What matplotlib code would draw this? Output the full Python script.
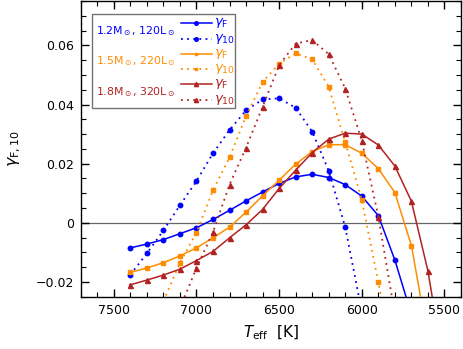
import numpy as np
import matplotlib
matplotlib.use('Agg')
import matplotlib.pyplot as plt
from matplotlib.ticker import MultipleLocator, FuncFormatter
from matplotlib.patches import Rectangle

plt.rcParams['font.family'] = 'DejaVu Sans'
plt.rcParams['mathtext.fontset'] = 'dejavusans'

# Data
teff_f_12 = [7400, 7300, 7200, 7100, 7000, 6900, 6800, 6700, 6600, 6500, 6400, 6300, 6200, 6100, 6000, 5900, 5800, 5700]
gf_12 = [-0.0085, -0.0072, -0.0057, -0.0037, -0.0017, 0.0011, 0.0042, 0.0074, 0.0104, 0.0133, 0.0155, 0.0164,
         0.0153, 0.0129, 0.0090, 0.0024, -0.0126, -0.031]
teff_f_15 = [7400, 7300, 7200, 7100, 7000, 6900, 6800, 6700, 6600, 6500, 6400, 6300, 6200, 6100, 6000, 5900, 5800, 5700, 5600]
gf_15 = [-0.0168, -0.0153, -0.0135, -0.0112, -0.0085, -0.0051, -0.0015, 0.0036, 0.0091, 0.0144, 0.0198, 0.0241,
         0.0264, 0.0264, 0.0235, 0.0183, 0.0102, -0.0077, -0.039]
teff_f_18 = [7400, 7300, 7200, 7100, 7000, 6900, 6800, 6700, 6600, 6500, 6400, 6300, 6200, 6100, 6000, 5900, 5800, 5700, 5600, 5500]
gf_18 = [-0.0210, -0.0194, -0.0177, -0.0157, -0.0128, -0.0097, -0.0051, -0.0007, 0.0045, 0.0116, 0.0178, 0.0237,
         0.0283, 0.0303, 0.0300, 0.0263, 0.0192, 0.0073, -0.0163, -0.050]

teff_10_12 = [7400, 7300, 7200, 7100, 7000, 6900, 6800, 6700, 6600, 6500, 6400, 6300, 6200, 6100, 6000]
g10_12 = [-0.0176, -0.0104, -0.0026, 0.0059, 0.0141, 0.0235, 0.0314, 0.0380, 0.0417, 0.0421, 0.0389, 0.0308,
          0.0176, -0.0015, -0.030]
teff_10_15 = [7200, 7100, 7000, 6900, 6800, 6700, 6600, 6500, 6400, 6300, 6200, 6100, 6000, 5900, 5800]
g10_15 = [-0.0265, -0.0136, -0.0033, 0.0110, 0.0221, 0.0360, 0.0476, 0.0538, 0.0573, 0.0553, 0.0460, 0.0272,
          0.0078, -0.0202, -0.048]
teff_10_18 = [7100, 7000, 6900, 6800, 6700, 6600, 6500, 6400, 6300, 6200, 6100, 6000, 5900, 5800]
g10_18 = [-0.029, -0.0153, -0.0032, 0.0129, 0.0254, 0.0392, 0.0533, 0.0606, 0.0618, 0.0570, 0.0454, 0.0278,
          0.0021, -0.031]

models = [r'1.2M$_\odot$, 120L$_\odot$', r'1.5M$_\odot$, 220L$_\odot$', r'1.8M$_\odot$, 320L$_\odot$']
colors = ['#0000ff', '#ff8c00', '#b22222']
markers = ['o', 's', '^']
msizes = [3.2, 2.7, 3.6]
dotted = (0, (1.0, 2.4))

series_f = [(teff_f_12, gf_12), (teff_f_15, gf_15), (teff_f_18, gf_18)]
series_10 = [(teff_10_12, g10_12), (teff_10_15, g10_15), (teff_10_18, g10_18)]

fig = plt.figure(figsize=(4.64, 3.49), dpi=100)
ax = fig.add_axes([0.174, 0.150, 0.8195, 0.847])

ax.axhline(0, color='0.4', lw=0.9, zorder=1)

for i in range(3):
    t, g = series_f[i]
    ax.plot(t, g, color=colors[i], lw=1.1, marker=markers[i], ms=msizes[i], zorder=3)
    t, g = series_10[i]
    ax.plot(t, g, color=colors[i], lw=1.3, ls=dotted, marker=markers[i], ms=msizes[i], zorder=3)

ax.set_xlim(7700, 5400)
ax.set_ylim(-0.025, 0.075)

ax.xaxis.set_major_locator(MultipleLocator(500))
ax.xaxis.set_minor_locator(MultipleLocator(100))
ax.yaxis.set_major_locator(MultipleLocator(0.02))
ax.yaxis.set_minor_locator(MultipleLocator(0.005))
ax.yaxis.set_major_formatter(FuncFormatter(lambda v, p: '0' if abs(v) < 1e-9 else ('%.2f' % v).replace('-', '\u2212')))
ax.tick_params(which='both', direction='in', top=True, right=True, labelsize=9)
ax.tick_params(which='major', length=6, width=1.0, pad=5)
ax.tick_params(which='minor', length=3.5, width=0.8)
for s in ax.spines.values():
    s.set_linewidth(1.0)

ax.set_xlabel(r'$T_{\rm eff}$  [K]', fontsize=11, labelpad=5)
ax.set_ylabel(r'$\gamma_{\rm F,10}$', fontsize=11.5, labelpad=9)

# Hand-built legend box
ax.add_patch(Rectangle((0.030, 0.638), 0.376, 0.318, transform=ax.transAxes,
                       facecolor='white', edgecolor='0.45', lw=1.0, zorder=5))
row_top = 0.9246
row_step = 0.0517
for i in range(3):
    y1 = row_top - 2 * i * row_step
    y2 = y1 - row_step
    ax.text(0.040, (y1 + y2) / 2, models[i], color=colors[i], fontsize=7.8,
            transform=ax.transAxes, va='center', ha='left', zorder=6)
    ax.plot([0.263, 0.344], [y1, y1], color=colors[i], lw=1.1, transform=ax.transAxes, zorder=6)
    ax.plot([0.303], [y1], color=colors[i], marker=markers[i], ms=msizes[i] - 0.6,
            transform=ax.transAxes, zorder=6)
    ax.plot([0.263, 0.344], [y2, y2], color=colors[i], lw=1.3, ls=dotted, transform=ax.transAxes, zorder=6)
    ax.plot([0.303], [y2], color=colors[i], marker=markers[i], ms=msizes[i] - 0.6,
            transform=ax.transAxes, zorder=6)
    ax.text(0.350, y1, r'$\gamma_{\rm F}$', color=colors[i], fontsize=9.5,
            transform=ax.transAxes, va='center', ha='left', zorder=6)
    ax.text(0.350, y2, r'$\gamma_{10}$', color=colors[i], fontsize=9.5,
            transform=ax.transAxes, va='center', ha='left', zorder=6)

fig.savefig('out.png', dpi=100)
